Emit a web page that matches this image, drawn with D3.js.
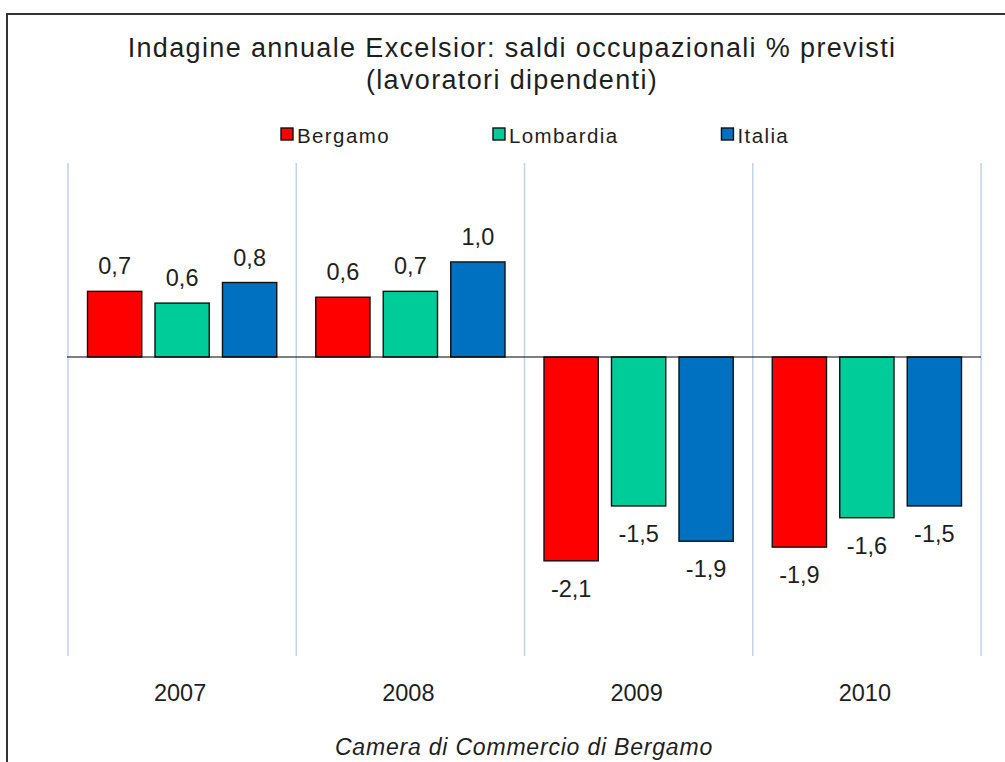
<!DOCTYPE html>
<html>
<head>
<meta charset="utf-8">
<script src="https://cdn.jsdelivr.net/npm/d3@7/dist/d3.min.js"></script>
<style>
  html, body { margin: 0; padding: 0; background: #ffffff; }
  svg { display: block; }
  text { font-family: "Liberation Sans", Arial, sans-serif; fill: #1e1e1e; }
</style>
</head>
<body>
<svg id="chart" width="1005" height="762"></svg>
<script>
// ---- data ----
const years = ["2007", "2008", "2009", "2010"];
const seriesNames = ["Bergamo", "Lombardia", "Italia"];
const bergamo = [0.67, 0.61, -2.08, -1.94];
const lombardia = [0.55, 0.67, -1.52, -1.64];
const italia = [0.76, 0.97, -1.88, -1.52];
const seriesColors = ["#FF0000", "#00CC99", "#0070C0"];
const titleLines = ["Indagine annuale Excelsior: saldi occupazionali % previsti", "(lavoratori dipendenti)"];
const footer = "Camera di Commercio di Bergamo";

const seriesValues = [bergamo, lombardia, italia];

const svg = d3.select("#chart");

// outer border (chart area extends beyond the picture)
svg.append("rect")
  .attr("x", 7).attr("y", 14)
  .attr("width", 1030).attr("height", 800)
  .attr("fill", "#ffffff")
  .attr("stroke", "#333").attr("stroke-width", 2);

// layout
const plotLeft = 68, plotRight = 981;
const gridTop = 163, gridBottom = 656;

const x0 = d3.scaleBand().domain(years).range([plotLeft, plotRight]).padding(0);
const bw0 = x0.bandwidth();
const x1 = d3.scaleBand().domain(seriesNames).range([19.5, bw0 - 19.5]).paddingInner(0.196).paddingOuter(0);
const y = d3.scaleLinear().domain([-3, 2]).range([651, 161]);

const locale = d3.formatLocale({decimal: ",", thousands: ".", grouping: [3], currency: ["€", ""], minus: "-"});
const fmt = locale.format(".1f");

// vertical category gridlines
const gridX = years.map(d => x0(d)).concat([x0(years[years.length - 1]) + bw0]);
svg.append("g").selectAll("line").data(gridX).join("line")
  .attr("x1", d => d).attr("x2", d => d)
  .attr("y1", gridTop).attr("y2", gridBottom)
  .attr("stroke", "#C3D3EA").attr("stroke-width", 1.5);

// bars
const groups = svg.append("g").selectAll("g").data(years).join("g")
  .attr("transform", d => `translate(${x0(d)},0)`);

groups.selectAll("rect")
  .data((d, i) => seriesNames.map((s, j) => ({s, j, v: seriesValues[j][i]})))
  .join("rect")
  .attr("x", d => x1(d.s))
  .attr("width", x1.bandwidth())
  .attr("y", d => Math.min(y(d.v), y(0)))
  .attr("height", d => Math.abs(y(d.v) - y(0)))
  .attr("fill", d => seriesColors[d.j])
  .attr("stroke", "#111").attr("stroke-width", 1.4);

// data labels
groups.selectAll("text.lbl")
  .data((d, i) => seriesNames.map((s, j) => ({s, j, v: seriesValues[j][i]})))
  .join("text").attr("class", "lbl")
  .attr("x", d => x1(d.s) + x1.bandwidth() / 2)
  .attr("y", d => d.v >= 0 ? y(d.v) - 17 : y(d.v) + 36)
  .attr("text-anchor", "middle")
  .attr("font-size", 23.5)
  .text(d => fmt(d.v));

// zero axis line
svg.append("line")
  .attr("x1", plotLeft - 1).attr("x2", plotRight)
  .attr("y1", y(0)).attr("y2", y(0))
  .attr("stroke", "#000").attr("stroke-width", 1.2);

// category labels
svg.append("g").selectAll("text").data(years).join("text")
  .attr("x", d => x0(d) + bw0 / 2 - 2)
  .attr("y", 701)
  .attr("text-anchor", "middle")
  .attr("font-size", 23.5)
  .text(d => d);

// title
svg.append("g").selectAll("text").data(titleLines).join("text")
  .attr("x", 512)
  .attr("y", (d, i) => 57 + i * 32)
  .attr("text-anchor", "middle")
  .attr("font-size", 27)
  .attr("letter-spacing", 1.35)
  .text(d => d);

// legend
const legend = svg.append("g");
let lx = 281;
const gapAfterText = 103;
seriesNames.forEach((name, j) => {
  legend.append("rect")
    .attr("x", lx).attr("y", 128)
    .attr("width", 12).attr("height", 12)
    .attr("fill", seriesColors[j])
    .attr("stroke", "#111").attr("stroke-width", 1.4);
  const t = legend.append("text")
    .attr("x", lx + 16).attr("y", 143)
    .attr("font-size", 20.5)
    .attr("letter-spacing", 1.4)
    .text(name);
  const w = t.node().getComputedTextLength();
  lx = lx + 16 + w + gapAfterText;
});

// footer
svg.append("text")
  .attr("x", 524).attr("y", 755)
  .attr("text-anchor", "middle")
  .attr("font-size", 23)
  .attr("font-style", "italic")
  .attr("letter-spacing", 0.8)
  .text(footer);
</script>
</body>
</html>
